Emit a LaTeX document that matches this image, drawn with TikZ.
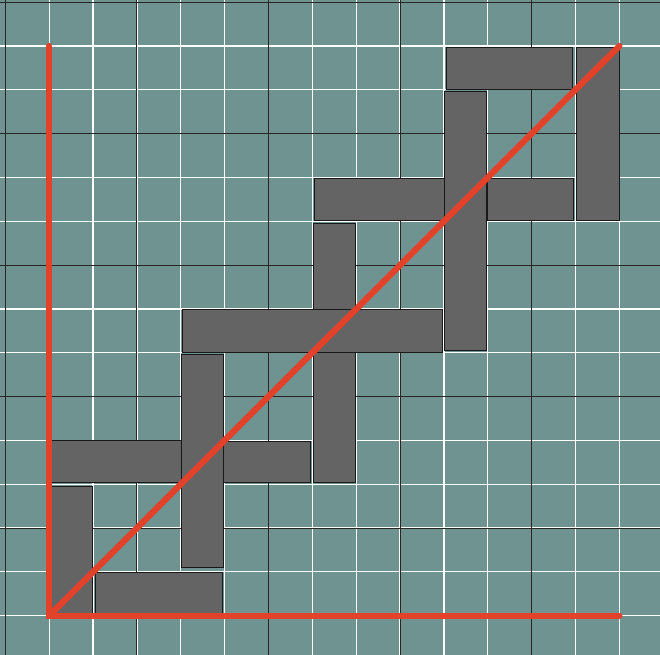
\documentclass[tikz,border=0pt]{standalone}
\begin{document}
\begin{tikzpicture}[x=43.86pt,y=43.82pt,
  bg/.style={fill=teal0},
  minor/.style={draw=white,line width=1.2pt},
  major/.style={draw=black!85,line width=1pt},
  tile/.style={fill=tilegray,draw=black!90,line width=0.9pt},
  axis/.style={draw=redline,line width=6.2pt,line cap=round,line join=miter}]
\definecolor{teal0}{HTML}{6F9391}
\definecolor{tilegray}{HTML}{646464}
\definecolor{redline}{HTML}{E2412A}
\useasboundingbox (-1.122,-0.897) rectangle (13.926,14.05);
\clip (-1.122,-0.897) rectangle (13.926,14.05);
\fill[bg] (-1.122,-0.897) rectangle (13.926,14.05);
% minor grid
\foreach \k in {-1,...,14} {
  \draw[minor] (\k,-1) -- (\k,14.2);
  \draw[minor] (-1.2,\k) -- (14,\k);
}
% major grid
\foreach \k in {-1,2,5,8,11,14} {
  \draw[major] (\k,-1) -- (\k,14.2);
  \draw[major] (-1.2,\k) -- (14,\k);
}
% tiles
\draw[tile] (1.06,0.06) rectangle (3.96,0.99);
\draw[tile] (0.03,0.06) rectangle (0.98,2.96);
\draw[tile] (0.03,3.04) rectangle (3.02,3.99);
\draw[tile] (3.98,3.03) rectangle (5.95,3.98);
\draw[tile] (3.02,1.09) rectangle (3.98,5.97);
\draw[tile] (6.02,3.05) rectangle (6.98,6.02);
\draw[tile] (3.04,6.01) rectangle (8.96,6.99);
\draw[tile] (6.02,6.99) rectangle (6.98,8.96);
\draw[tile] (6.04,9.01) rectangle (9.00,9.98);
\draw[tile] (9.01,6.05) rectangle (9.98,11.96);
\draw[tile] (9.99,9.01) rectangle (11.96,9.98);
\draw[tile] (9.05,12.01) rectangle (11.94,12.97);
\draw[tile] (12.02,9.01) rectangle (12.99,12.97);
% red lines
\coordinate (O) at (0,0);
\coordinate (Y) at (0,13);
\coordinate (X) at (13,0);
\coordinate (D) at (13,13);
\draw[axis] (Y) -- (O) -- (X);
\draw[axis] (O) -- (D);
\end{tikzpicture}
\end{document}
